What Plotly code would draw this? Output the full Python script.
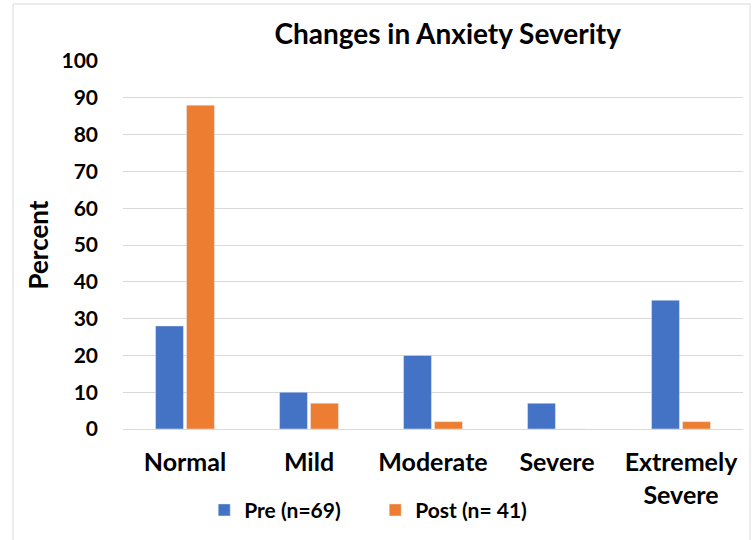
import plotly.graph_objects as go

categories = ["Normal", "Mild", "Moderate", "Severe", "Extremely<br>Severe"]
pre_values = [28, 10, 20, 7, 35]
post_values = [88, 7, 2, 0, 2]
series_names = ["Pre (n=69)", "Post (n= 41)"]
y_ticks = [0, 10, 20, 30, 40, 50, 60, 70, 80, 90, 100]

FONT = "Lato"

fig = go.Figure()
fig.add_trace(go.Bar(x=categories, y=pre_values, name="<b>" + series_names[0] + "</b>",
                     marker=dict(color="#4472C4")))
fig.add_trace(go.Bar(x=categories, y=post_values, name="<b>" + series_names[1] + "</b>",
                     marker=dict(color="#ED7D31")))

fig.update_layout(
    width=755, height=540,
    margin=dict(l=123, r=12, t=61, b=111),
    paper_bgcolor="white", plot_bgcolor="white",
    barmode="group", bargap=0.5, bargroupgap=0.1,
    font=dict(family=FONT, color="black"),
    title=dict(text="<b>Changes in Anxiety Severity</b>", x=0.593, xanchor="center",
               y=0.936, yanchor="middle", font=dict(size=28, family=FONT, color="black")),
    xaxis=dict(tickfont=dict(size=25, family=FONT, color="black", weight="bold"),
               showgrid=False, showline=False, ticks="", ticklabelstandoff=16,
               automargin=False),
    yaxis=dict(range=[0, 100], tickvals=y_ticks, showgrid=True, gridcolor="#d9d9d9",
               gridwidth=1, zeroline=True, zerolinecolor="#d9d9d9", zerolinewidth=1,
               tickfont=dict(size=21, family=FONT, color="black", weight="bold"), ticks="",
               ticklabelstandoff=24, automargin=False,
               title=dict(text="<b>Percent</b>", font=dict(size=26, family=FONT, color="black"),
                          standoff=5)),
    legend=dict(orientation="h", x=0.131, xanchor="left", yref="container",
                y=0.055, yanchor="middle",
                font=dict(size=21, family=FONT, color="black"),
                entrywidth=126, entrywidthmode="pixels", bgcolor="rgba(0,0,0,0)"),
    shapes=[dict(type="rect", xref="paper", yref="paper", x0=-0.1774, x1=1.0113,
                 y0=-0.35, y1=1.1549, line=dict(color="#d9d9d9", width=1),
                 fillcolor="rgba(0,0,0,0)", layer="below")],
)

fig.write_html("out.html", config={"displayModeBar": False},
               post_script="document.body.style.margin='0px';")
